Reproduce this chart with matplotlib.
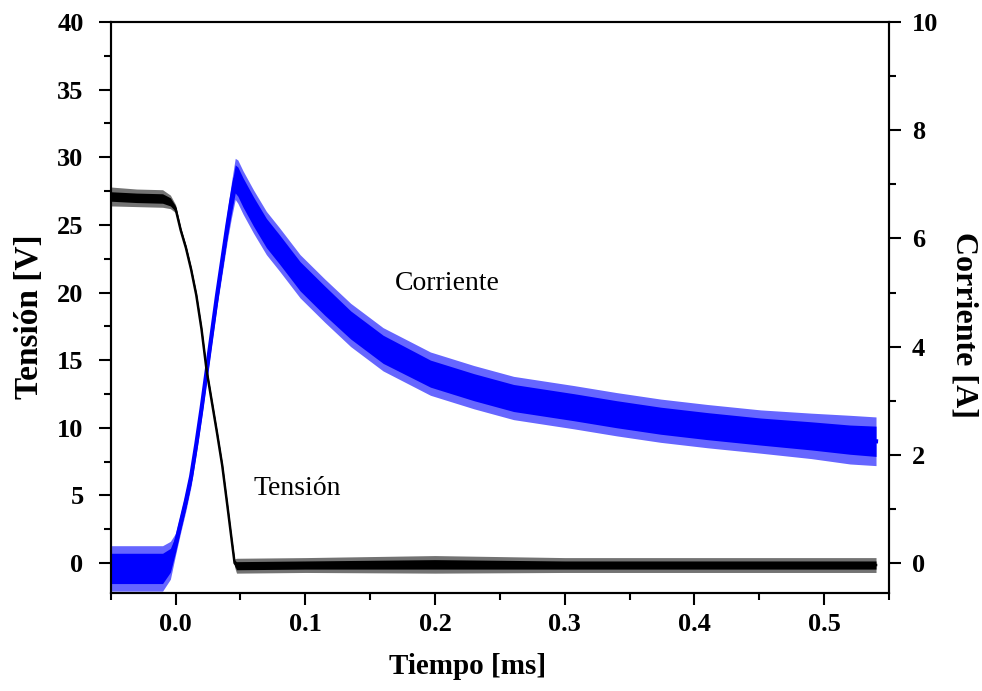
import matplotlib
matplotlib.use("Agg")
import matplotlib.pyplot as plt
from matplotlib.ticker import MultipleLocator, FormatStrFormatter
import numpy as np

# ----------------------------------------------- DATA ---------------------------------------------------------------------#
# voltage (left axis), centre of the noisy trace and its noise half-widths
t_v = [-0.05, -0.03, -0.01, -0.004, 0.0, 0.004, 0.008, 0.012, 0.016, 0.020, 0.024, 0.028, 0.032,
       0.036, 0.040, 0.043, 0.0455, 0.047, 0.1, 0.2, 0.3, 0.4, 0.5, 0.54]
v_mid = [27.1, 27.0, 26.95, 26.7, 26.2, 24.6, 23.3, 21.7, 19.8, 17.3, 14.2, 11.9, 9.6,
         7.2, 4.2, 1.9, 0.0, -0.2, -0.15, -0.1, -0.15, -0.15, -0.15, -0.15]
v_core = [0.35, 0.35, 0.35, 0.3, 0.2, 0.15, 0.15, 0.15, 0.15, 0.15, 0.15, 0.15, 0.15,
          0.15, 0.15, 0.15, 0.2, 0.3, 0.3, 0.35, 0.3, 0.3, 0.3, 0.3]
v_spike = [0.7, 0.65, 0.65, 0.5, 0.3, 0.2, 0.2, 0.2, 0.2, 0.2, 0.2, 0.2, 0.2,
           0.2, 0.2, 0.2, 0.3, 0.55, 0.55, 0.65, 0.55, 0.55, 0.55, 0.55]

# current (right axis)
t_i = [-0.05, -0.03, -0.01, -0.004, 0.0, 0.004, 0.008, 0.012, 0.016, 0.020, 0.024, 0.028, 0.032,
       0.036, 0.040, 0.043, 0.046, 0.048, 0.052, 0.06, 0.07, 0.08, 0.096, 0.115, 0.135, 0.16,
       0.1965, 0.23, 0.2606, 0.307, 0.34, 0.374, 0.41, 0.451, 0.49, 0.52, 0.54]
i_mid = [-0.1, -0.1, -0.1, 0.05, 0.35, 0.75, 1.15, 1.6, 2.2, 2.85, 3.55, 4.25, 4.95,
         5.6, 6.25, 6.7, 7.1, 7.05, 6.85, 6.5, 6.1, 5.8, 5.3, 4.85, 4.4, 3.95,
         3.5, 3.25, 3.05, 2.88, 2.75, 2.63, 2.53, 2.43, 2.35, 2.28, 2.25]
i_core = [0.28, 0.28, 0.28, 0.22, 0.15, 0.13, 0.13, 0.13, 0.13, 0.13, 0.13, 0.13, 0.15,
          0.18, 0.2, 0.24, 0.26, 0.27, 0.27, 0.27, 0.27, 0.27, 0.27, 0.27, 0.26, 0.26,
          0.25, 0.25, 0.25, 0.25, 0.25, 0.25, 0.25, 0.25, 0.26, 0.27, 0.28]
i_spike = [0.42, 0.42, 0.42, 0.35, 0.2, 0.18, 0.18, 0.18, 0.18, 0.18, 0.18, 0.18, 0.2,
           0.24, 0.28, 0.33, 0.38, 0.4, 0.4, 0.4, 0.4, 0.4, 0.4, 0.4, 0.4, 0.4,
           0.4, 0.4, 0.4, 0.4, 0.4, 0.4, 0.4, 0.4, 0.42, 0.45, 0.45]

xticks = [0.0, 0.1, 0.2, 0.3, 0.4, 0.5]

# ----------------------------------------------- PLOT -------------------------------------------------#
plt.rcParams['font.family'] = ['Liberation Serif', 'DejaVu Serif']

fig = plt.figure(figsize=(9.82, 6.91), dpi=100)
ax = fig.add_axes([110.7 / 982, 1 - 593.3 / 691, (889 - 110.7) / 982, (593.3 - 22) / 691])
ax2 = ax.twinx()

tv, vm = np.array(t_v), np.array(v_mid)
vc, vs = np.array(v_core), np.array(v_spike)
ti, im = np.array(t_i), np.array(i_mid)
ic, isp = np.array(i_core), np.array(i_spike)

blue = '#0000ff'
ax2.fill_between(ti, im - isp, im + isp, color=blue, alpha=0.6, lw=0)
ax2.fill_between(ti, im - ic, im + ic, color=blue, lw=0)
ax2.plot(ti, im, color=blue, lw=3)

ax.fill_between(tv, vm - vs, vm + vs, color='black', alpha=0.55, lw=0)
ax.fill_between(tv, vm - vc, vm + vc, color='black', lw=0)
ax.plot(tv, vm, color='black', lw=1.8)

# black trace drawn above blue one
ax.set_zorder(ax2.get_zorder() + 1)
ax.patch.set_visible(False)

ax.set_xlim(-0.05, 0.55)
ax.set_ylim(-2.24, 40)
ax2.set_ylim(-0.56, 10)

ax.set_xticks(xticks)
ax.xaxis.set_minor_locator(MultipleLocator(0.05))
ax.xaxis.set_major_formatter(FormatStrFormatter('%.1f'))
ax.yaxis.set_major_locator(MultipleLocator(5))
ax.yaxis.set_minor_locator(MultipleLocator(2.5))
ax2.yaxis.set_major_locator(MultipleLocator(2))
ax2.yaxis.set_minor_locator(MultipleLocator(1))

for a in (ax, ax2):
    a.tick_params(which='major', direction='out', length=8.5, width=1.5, labelsize=19)
    a.tick_params(which='minor', direction='out', length=5, width=1.5)
    for s in a.spines.values():
        s.set_linewidth(1.5)
    for lab in a.get_xticklabels() + a.get_yticklabels():
        lab.set_fontweight('bold')
ax.tick_params(top=False, right=False)
ax.tick_params(axis='x', pad=6)
ax.tick_params(axis='y', pad=11)
ax2.tick_params(top=False, left=False, pad=8)

ax.set_xlabel('Tiempo [ms]', fontsize=21, fontweight='bold')
ax.xaxis.set_label_coords(0.458, -0.104)
ax.set_ylabel('Tensión [V]', fontsize=24, fontweight='bold')
ax.yaxis.set_label_coords(-0.084, 0.485)
ax2.set_ylabel('Corriente [A]', fontsize=23, fontweight='bold', rotation=270, va='bottom')
ax2.yaxis.set_label_coords(1.078, 0.47)

ax.text(0.2096, 20.7, 'Corriente', fontsize=20, ha='center', va='center')
ax.text(0.094, 5.5, 'Tensión', fontsize=20, ha='center', va='center')

fig.savefig('out.png', dpi=100)
